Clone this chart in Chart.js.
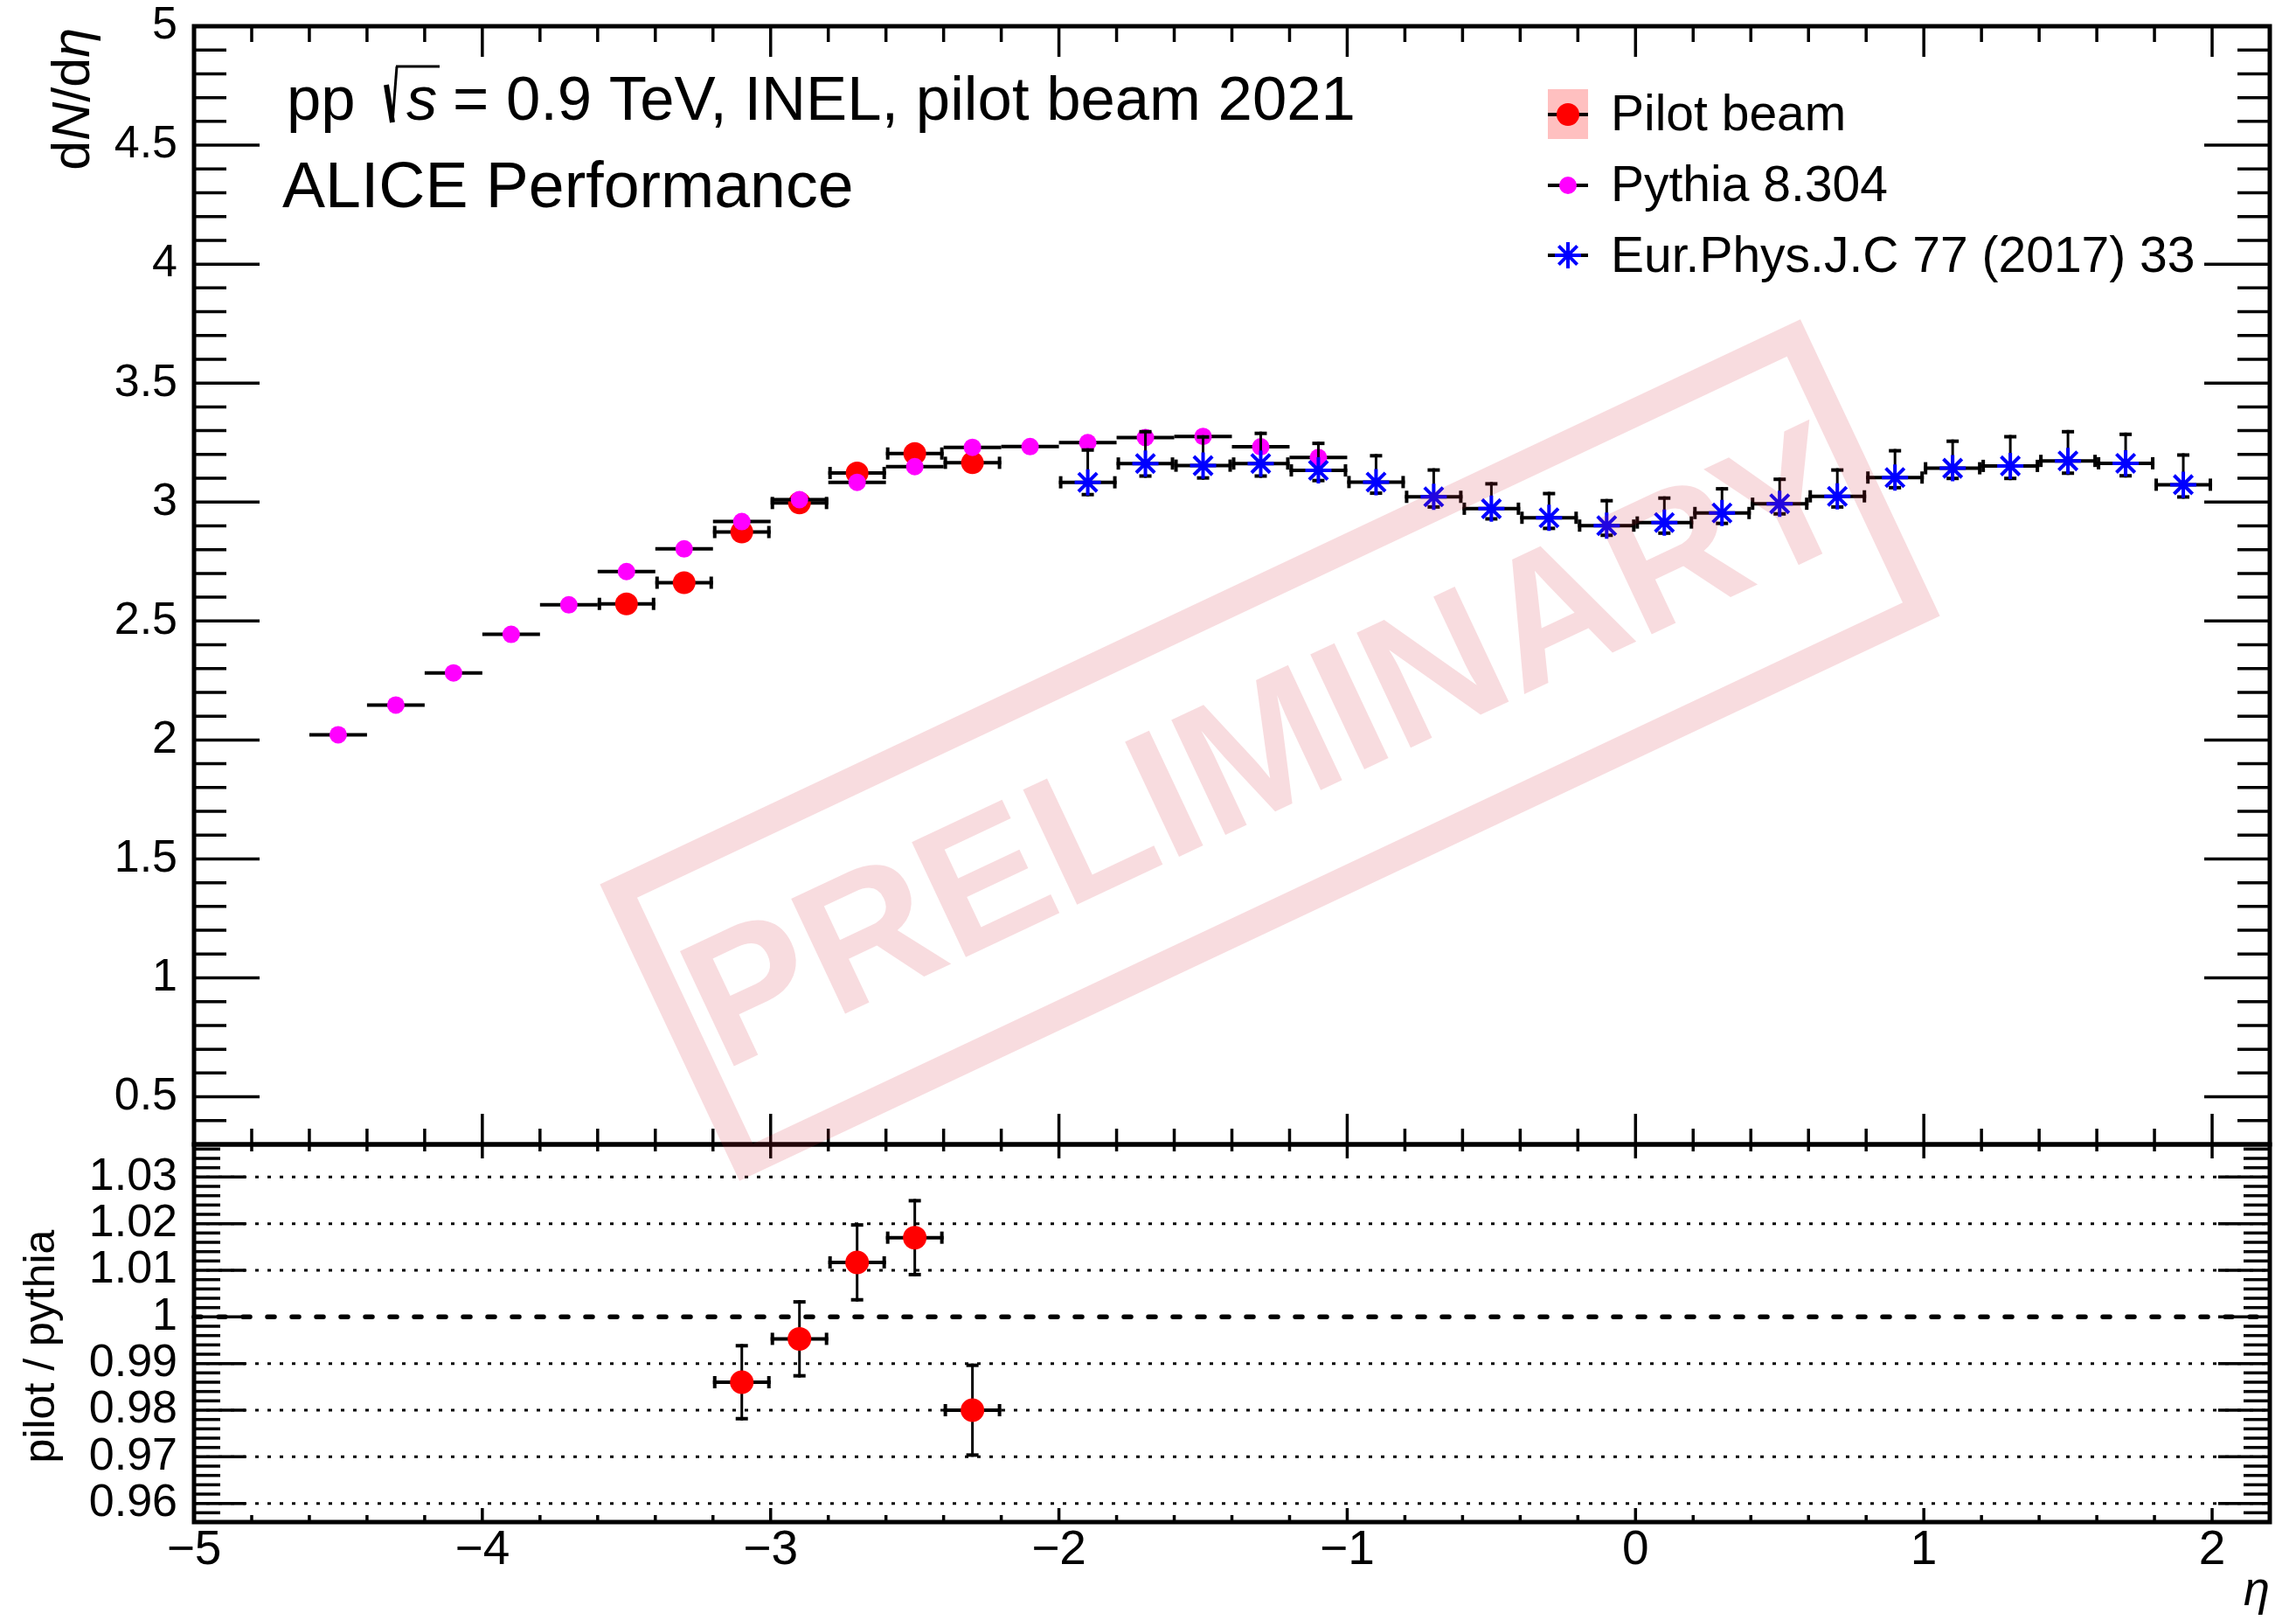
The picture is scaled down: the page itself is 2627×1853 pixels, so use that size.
<!DOCTYPE html>
<html>
<head>
<meta charset="utf-8">
<title>dN/deta pp 0.9 TeV pilot beam</title>
<script src="https://cdn.jsdelivr.net/npm/chart.js@4.4.1/dist/chart.umd.min.js"></script>
<style>
  html, body { margin: 0; padding: 0; background: #ffffff; }
  #wrap { position: relative; width: 2627px; height: 1853px; }
  canvas { position: absolute; left: 0; top: 0; }
  #ratio { z-index: 1; }
  #main { z-index: 2; }
</style>
</head>
<body>
<div id="wrap">
  <canvas id="ratio" width="2627" height="1853"></canvas>
  <canvas id="main" width="2627" height="1853"></canvas>
</div>
<script>
const FONT = '"Liberation Sans", Arial, Helvetica, sans-serif';

// ---- data: pseudorapidity bin centres (bins are 0.2 wide) ----
const BIN_HALF_WIDTH = 0.1;

// Pilot beam 2021
const PILOT_ETA    = [-3.5, -3.3, -3.1, -2.9, -2.7, -2.5, -2.3];
const PILOT_DNDETA = [2.572, 2.661, 2.874, 2.996, 3.122, 3.204, 3.165];

// Pythia 8.304
const PYTHIA_ETA    = [-4.5, -4.3, -4.1, -3.9, -3.7, -3.5, -3.3, -3.1, -2.9, -2.7, -2.5, -2.3, -2.1, -1.9, -1.7, -1.5, -1.3, -1.1];
const PYTHIA_DNDETA = [2.022, 2.147, 2.282, 2.444, 2.568, 2.708, 2.803, 2.918, 3.010, 3.083, 3.149, 3.230, 3.233, 3.250, 3.271, 3.276, 3.232, 3.187];

// Eur.Phys.J.C 77 (2017) 33
const EPJC_ETA      = [-1.9, -1.7, -1.5, -1.3, -1.1, -0.9, -0.7, -0.5, -0.3, -0.1, 0.1, 0.3, 0.5, 0.7, 0.9, 1.1, 1.3, 1.5, 1.7, 1.9];
const EPJC_DNDETA   = [3.083, 3.162, 3.153, 3.162, 3.133, 3.084, 3.022, 2.972, 2.934, 2.901, 2.914, 2.954, 2.993, 3.024, 3.103, 3.142, 3.152, 3.173, 3.163, 3.073];
const EPJC_ERR_UP   = [0.143, 0.141, 0.128, 0.134, 0.121, 0.118, 0.120, 0.112, 0.109, 0.112, 0.110, 0.109, 0.110, 0.118, 0.120, 0.121, 0.130, 0.130, 0.129, 0.132];
const EPJC_ERR_DOWN = [0.059, 0.060, 0.059, 0.060, 0.050, 0.054, 0.050, 0.050, 0.052, 0.048, 0.052, 0.051, 0.050, 0.052, 0.050, 0.050, 0.060, 0.059, 0.060, 0.059];

// pilot / pythia
const RATIO_ETA   = [-3.1, -2.9, -2.7, -2.5, -2.3];
const RATIO_VALUE = [0.986, 0.9953, 1.0117, 1.0170, 0.980];
const RATIO_ERR   = [0.0082, 0.0083, 0.0084, 0.0083, 0.0100];

// ---- axes ----
const X_RANGE = [-5, 2.2];
const X_TICKS = [-5, -4, -3, -2, -1, 0, 1, 2];
const X_TICK_LABELS = ['\u22125', '\u22124', '\u22123', '\u22122', '\u22121', '0', '1', '2'];
const MAIN_Y_RANGE = [0.3, 5];
const MAIN_Y_TICKS = [0.5, 1, 1.5, 2, 2.5, 3, 3.5, 4, 4.5, 5];
const MAIN_Y_TICK_LABELS = ['0.5', '1', '1.5', '2', '2.5', '3', '3.5', '4', '4.5', '5'];
const RATIO_Y_RANGE = [0.956, 1.037];
const RATIO_Y_TICKS = [0.96, 0.97, 0.98, 0.99, 1.00, 1.01, 1.02, 1.03];
const RATIO_Y_TICK_LABELS = ['0.96', '0.97', '0.98', '0.99', '1', '1.01', '1.02', '1.03'];

const toPoints = (xs, ys) => xs.map((x, i) => ({ x: x, y: ys[i] }));
const halfWidths = (xs) => xs.map(() => BIN_HALF_WIDTH);

function seg(ctx, x0, y0, x1, y1) {
  ctx.beginPath(); ctx.moveTo(x0, y0); ctx.lineTo(x1, y1); ctx.stroke();
}

// Error bars drawn just beneath each dataset's markers
const errorBars = {
  id: 'errorBars',
  beforeDatasetDraw(chart, args) {
    const ds = chart.data.datasets[args.index];
    if (!ds.errX && !ds.errUp) return;
    const { ctx, chartArea: a } = chart;
    const x = chart.scales.x, y = chart.scales.y;
    ctx.save();
    ctx.beginPath(); ctx.rect(a.left, a.top, a.width, a.height); ctx.clip();
    ctx.strokeStyle = '#000'; ctx.lineWidth = 4; ctx.lineCap = 'butt'; ctx.setLineDash([]);
    const cap = 7;
    ds.data.forEach((p, i) => {
      const px = x.getPixelForValue(p.x), py = y.getPixelForValue(p.y);
      if (ds.errX) {
        const x0 = x.getPixelForValue(p.x - ds.errX[i]);
        const x1 = x.getPixelForValue(p.x + ds.errX[i]);
        seg(ctx, x0, py, x1, py);
        if (ds.caps) { seg(ctx, x0 + 2, py - cap, x0 + 2, py + cap); seg(ctx, x1 - 2, py - cap, x1 - 2, py + cap); }
      }
      if (ds.errUp) {
        const y0 = y.getPixelForValue(p.y + ds.errUp[i]);
        const y1 = y.getPixelForValue(p.y - ds.errDown[i]);
        ctx.lineWidth = 3;
        seg(ctx, px, y0, px, y1);
        ctx.lineWidth = 4;
        if (ds.caps) { seg(ctx, px - cap, y0 + 2, px + cap, y0 + 2); seg(ctx, px - cap, y1 - 2, px + cap, y1 - 2); }
      }
    });
    ctx.restore();
  }
};

// Frame with inward ticks on all four sides
function tickValues(min, max, step) {
  const out = [];
  const n0 = Math.ceil(min / step - 1e-6), n1 = Math.floor(max / step + 1e-6);
  for (let n = n0; n <= n1; n++) out.push(n * step);
  return out;
}
const isMultiple = (v, m) => Math.abs(v / m - Math.round(v / m)) < 1e-6;

const frameTicks = {
  id: 'frameTicks',
  afterDatasetsDraw(chart, args, o) {
    const { ctx, chartArea: a } = chart;
    const x = chart.scales.x, y = chart.scales.y;
    ctx.save();
    ctx.strokeStyle = '#000'; ctx.setLineDash([]); ctx.lineCap = 'butt';
    ctx.lineWidth = 3.5;
    tickValues(x.min, x.max, o.xMinor).forEach(v => {
      const px = x.getPixelForValue(v);
      const len = isMultiple(v, o.xMajor) ? o.xMajorLen : o.xMinorLen;
      seg(ctx, px, a.bottom, px, a.bottom - len);
      seg(ctx, px, a.top, px, a.top + len);
    });
    tickValues(y.min, y.max, o.yMinor).forEach(v => {
      const py = y.getPixelForValue(v);
      const len = isMultiple(v, o.yMajor) ? o.yMajorLen : o.yMinorLen;
      seg(ctx, a.left, py, a.left + len, py);
      seg(ctx, a.right, py, a.right - len, py);
    });
    ctx.lineWidth = 5;
    ctx.strokeRect(a.left, a.top, a.right - a.left, a.bottom - a.top);
    ctx.restore();
  }
};

// Reference lines of the ratio panel
const ratioGrid = {
  id: 'ratioGrid',
  beforeDatasetsDraw(chart) {
    const { ctx, chartArea: a } = chart;
    const y = chart.scales.y;
    ctx.save();
    ctx.strokeStyle = '#000';
    RATIO_Y_TICKS.forEach(v => {
      const py = y.getPixelForValue(v);
      if (Math.abs(v - 1) < 1e-9) {
        ctx.lineWidth = 5.5; ctx.lineCap = 'round'; ctx.setLineDash([8, 20]);
      } else {
        ctx.lineWidth = 3; ctx.lineCap = 'butt'; ctx.setLineDash([4, 10]);
      }
      seg(ctx, a.left, py, a.right, py);
    });
    ctx.restore();
  }
};

function drawRotatedRuns(ctx, runs, x, y, align) {
  ctx.save();
  ctx.translate(x, y);
  ctx.rotate(-Math.PI / 2);
  ctx.textBaseline = 'alphabetic';
  ctx.textAlign = 'left';
  let total = 0;
  runs.forEach(r => { ctx.font = r.font; total += ctx.measureText(r.text).width; });
  let cx = align === 'right' ? -total : -total / 2;
  runs.forEach(r => { ctx.font = r.font; ctx.fillText(r.text, cx, 0); cx += ctx.measureText(r.text).width; });
  ctx.restore();
}

// Titles, labels, legend and the preliminary stamp
const annotations = {
  id: 'annotations',
  afterDraw(chart) {
    const ctx = chart.ctx;
    ctx.save();
    ctx.fillStyle = '#000';
    ctx.strokeStyle = '#000';
    ctx.textBaseline = 'alphabetic';
    ctx.textAlign = 'left';

    // collision system
    ctx.font = '70.7px ' + FONT;
    ctx.fillText('pp', 328, 137);
    ctx.lineCap = 'butt';
    ctx.lineWidth = 6; seg(ctx, 442, 97, 449, 140);
    ctx.lineWidth = 3; seg(ctx, 449, 140, 454, 76);
    ctx.lineWidth = 3; seg(ctx, 453, 76, 503, 76);
    ctx.font = 'italic 70.7px ' + FONT;
    ctx.fillText('s', 465, 137);
    ctx.font = '70.7px ' + FONT;
    ctx.fillText('= 0.9 TeV, INEL, pilot beam 2021', 518, 137);

    ctx.font = '73.5px ' + FONT;
    ctx.fillText('ALICE Performance', 323, 237);

    // y title of the upper panel
    drawRotatedRuns(ctx, [
      { text: 'd', font: '61px ' + FONT },
      { text: 'N', font: 'italic 61px ' + FONT },
      { text: '/d', font: '61px ' + FONT },
      { text: '\u03b7', font: 'italic 61px ' + FONT }
    ], 102, 32, 'right');

    // y title of the ratio panel
    drawRotatedRuns(ctx, [{ text: 'pilot / pythia', font: '50px ' + FONT }], 62, 1540, 'center');

    // x title
    ctx.font = 'italic 54px ' + FONT;
    ctx.textAlign = 'right';
    ctx.fillText('\u03b7', 2597, 1836);
    ctx.textAlign = 'left';

    // legend
    const lx0 = 1771, lx1 = 1817, lxc = 1794;
    const rows = [131, 212, 292];
    ctx.fillStyle = '#ffc0c0';
    ctx.fillRect(lx0, 102, lx1 - lx0, 57);
    ctx.lineWidth = 4;
    rows.forEach(r => seg(ctx, lx0, r, lx1, r));
    const H = Chart.helpers;
    ctx.fillStyle = '#ff0000';
    H.drawPoint(ctx, { pointStyle: 'circle', radius: 13, borderWidth: 0 }, lxc, rows[0]);
    ctx.fillStyle = '#ff00ff';
    H.drawPoint(ctx, { pointStyle: 'circle', radius: 10, borderWidth: 0 }, lxc, rows[1]);
    ctx.strokeStyle = '#0000ff';
    H.drawPoint(ctx, { pointStyle: 'star', radius: 15, borderWidth: 4 }, lxc, rows[2]);
    ctx.fillStyle = '#000';
    ctx.font = '57px ' + FONT;
    ctx.fillText('Pilot beam', 1843, 149);
    ctx.fillText('Pythia 8.304', 1843, 230);
    ctx.fillText('Eur.Phys.J.C 77 (2017) 33', 1843, 311);

    // preliminary stamp
    ctx.translate(1453, 858);
    ctx.rotate(-25.2 * Math.PI / 180);
    ctx.strokeStyle = 'rgba(214, 40, 58, 0.16)';
    ctx.fillStyle = 'rgba(214, 40, 58, 0.16)';
    ctx.lineWidth = 32;
    ctx.strokeRect(-743, -171.5, 1486, 343);
    ctx.font = 'bold 211px ' + FONT;
    ctx.textAlign = 'center';
    ctx.fillText('PRELIMINARY', 0, 66);
    ctx.restore();
  }
};

const baseTicks = (size) => ({ color: '#000', font: { family: FONT, size: size, lineHeight: 1 } });
const noScalePadding = (s) => { s.paddingTop = 0; s.paddingBottom = 0; s.paddingLeft = 0; s.paddingRight = 0; };

// Upper panel: dN/deta
new Chart(document.getElementById('main'), {
  type: 'scatter',
  data: {
    datasets: [
      {
        label: 'Pilot beam',
        data: toPoints(PILOT_ETA, PILOT_DNDETA),
        errX: halfWidths(PILOT_ETA), caps: true,
        pointStyle: 'circle', pointRadius: 13, pointBackgroundColor: '#ff0000', pointBorderWidth: 0,
        order: 3
      },
      {
        label: 'Pythia 8.304',
        data: toPoints(PYTHIA_ETA, PYTHIA_DNDETA),
        errX: halfWidths(PYTHIA_ETA), caps: false,
        pointStyle: 'circle', pointRadius: 10, pointBackgroundColor: '#ff00ff', pointBorderWidth: 0,
        order: 2
      },
      {
        label: 'Eur.Phys.J.C 77 (2017) 33',
        data: toPoints(EPJC_ETA, EPJC_DNDETA),
        errX: halfWidths(EPJC_ETA), errUp: EPJC_ERR_UP, errDown: EPJC_ERR_DOWN, caps: true,
        pointStyle: 'star', pointRadius: 15, pointBorderColor: '#0000ff', pointBorderWidth: 4,
        order: 1
      }
    ]
  },
  options: {
    responsive: false, animation: false, devicePixelRatio: 1, events: [],
    layout: { padding: { left: 0, top: 30, right: 30, bottom: 544 } },
    scales: {
      x: { type: 'linear', min: X_RANGE[0], max: X_RANGE[1], display: false },
      y: {
        type: 'linear', min: MAIN_Y_RANGE[0], max: MAIN_Y_RANGE[1],
        grid: { display: false, drawTicks: false }, border: { display: false },
        ticks: Object.assign(baseTicks(52), { padding: 19, callback: (v, i) => MAIN_Y_TICK_LABELS[i] }),
        afterBuildTicks: (s) => { s.ticks = MAIN_Y_TICKS.map(v => ({ value: v })); },
        afterFit: (s) => { s.width = 222; noScalePadding(s); }
      }
    },
    plugins: {
      legend: { display: false }, tooltip: { enabled: false },
      frameTicks: { xMajor: 1, xMinor: 0.2, xMajorLen: 35, xMinorLen: 18, yMajor: 0.5, yMinor: 0.1, yMajorLen: 75, yMinorLen: 37 }
    }
  },
  plugins: [errorBars, frameTicks, annotations]
});

// Lower panel: pilot / pythia
new Chart(document.getElementById('ratio'), {
  type: 'scatter',
  data: {
    datasets: [{
      label: 'pilot / pythia',
      data: toPoints(RATIO_ETA, RATIO_VALUE),
      errX: halfWidths(RATIO_ETA), errUp: RATIO_ERR, errDown: RATIO_ERR, caps: true,
      pointStyle: 'circle', pointRadius: 13.5, pointBackgroundColor: '#ff0000', pointBorderWidth: 0
    }]
  },
  options: {
    responsive: false, animation: false, devicePixelRatio: 1, events: [],
    layout: { padding: { left: 0, top: 1309, right: 30, bottom: 0 } },
    scales: {
      x: {
        type: 'linear', min: X_RANGE[0], max: X_RANGE[1],
        grid: { display: false, drawTicks: false }, border: { display: false },
        ticks: Object.assign(baseTicks(55), { padding: 5, maxRotation: 0, autoSkip: false, callback: (v, i) => X_TICK_LABELS[i] }),
        afterBuildTicks: (s) => { s.ticks = X_TICKS.map(v => ({ value: v })); },
        afterFit: (s) => { s.height = 112; noScalePadding(s); }
      },
      y: {
        type: 'linear', min: RATIO_Y_RANGE[0], max: RATIO_Y_RANGE[1],
        grid: { display: false, drawTicks: false }, border: { display: false },
        ticks: Object.assign(baseTicks(52), { padding: 19, callback: (v, i) => RATIO_Y_TICK_LABELS[i] }),
        afterBuildTicks: (s) => { s.ticks = RATIO_Y_TICKS.map(v => ({ value: v })); },
        afterFit: (s) => { s.width = 222; noScalePadding(s); }
      }
    },
    plugins: {
      legend: { display: false }, tooltip: { enabled: false },
      frameTicks: { xMajor: 1, xMinor: 0.2, xMajorLen: 16, xMinorLen: 8, yMajor: 0.01, yMinor: 0.002, yMajorLen: 59, yMinorLen: 30 }
    }
  },
  plugins: [ratioGrid, errorBars, frameTicks]
});
</script>
</body>
</html>
